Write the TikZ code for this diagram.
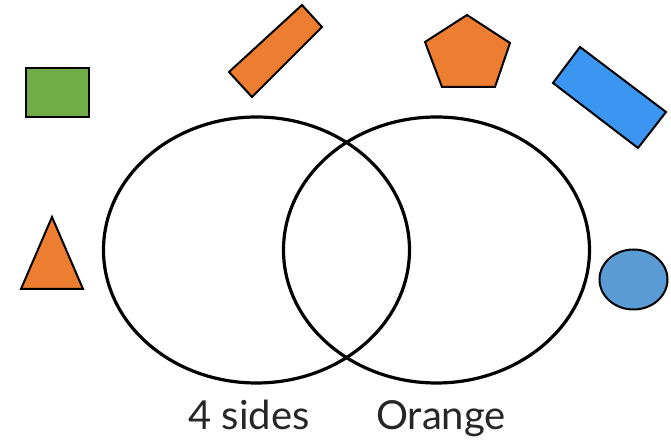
\documentclass[tikz,border=0pt]{standalone}
\usepackage{fontspec}
\setmainfont{Lato}
\usepackage{xcolor}
\definecolor{shapeorange}{HTML}{ED7D31}
\definecolor{shapegreen}{HTML}{70AD47}
\definecolor{shapeblue}{HTML}{3B96F2}
\definecolor{shapesteel}{HTML}{5B9BD5}

\begin{document}
\begin{tikzpicture}[x=0.5pt,y=-0.5pt,
  looseshape/.style={draw=black, line width=1pt, line join=miter},
  setring/.style={draw=black, line width=1.6pt},
  setlabel/.style={font=\fontsize{20}{24}\selectfont, text=black!85, inner sep=0pt}]

\useasboundingbox (0,0) rectangle (671,442);

% ------------------------------------------------------------
% Loose shapes around the diagram
% ------------------------------------------------------------
\filldraw[shapegreen, looseshape] (26,68) rectangle (89,117);
\filldraw[fill=shapeorange, looseshape] (229,72) -- (302,5) -- (322,27) -- (252,97) -- cycle;
\filldraw[fill=shapeorange, looseshape] (467,15) -- (510,43) -- (495,87) -- (442,87) -- (425,42) -- cycle;
\filldraw[fill=shapeblue, looseshape] (553,83) -- (580,47) -- (666,112) -- (638,148) -- cycle;
\filldraw[fill=shapeorange, looseshape] (52,217) -- (83,289) -- (21,289) -- cycle;
\filldraw[fill=shapesteel, looseshape] (633.5,279.5) ellipse (34 and 30);

% ------------------------------------------------------------
% The two sets
% ------------------------------------------------------------
\draw[setring] (256.5,250) ellipse (153 and 133);
\draw[setring] (436.5,250) ellipse (153 and 133);

% Set labels
\node[setlabel, anchor=base] (sides) at (249,430) {4 sides};
\node[setlabel, anchor=base] (orange) at (441,430) {Orange};

\end{tikzpicture}
\end{document}
